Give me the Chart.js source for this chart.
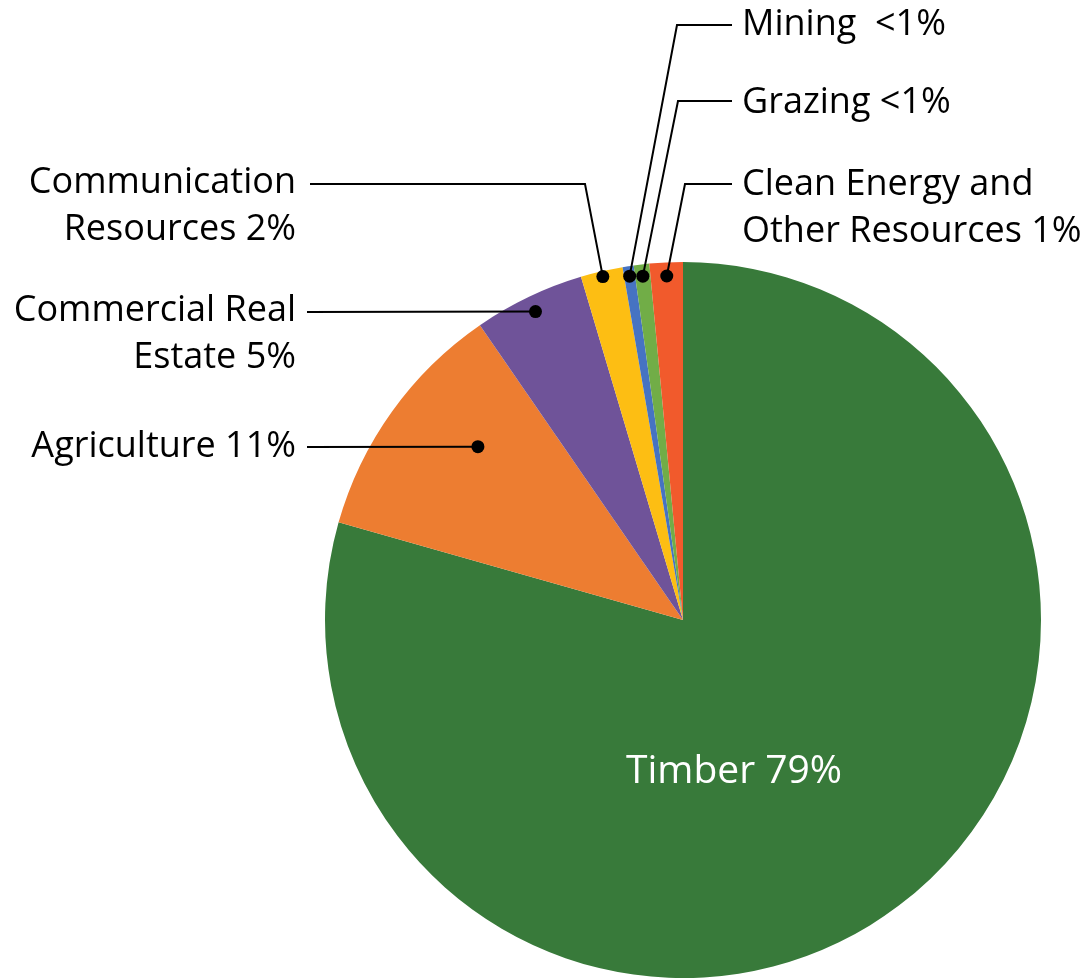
<!DOCTYPE html>
<html lang="en">
<head>
    <meta charset="UTF-8">
    <title>Land use revenue</title>
    <script src="https://cdn.jsdelivr.net/npm/chart.js"></script>
    <style>
        body { margin: 0; background: #fff; }
        #wrap { width: 1083px; height: 980px; }
    </style>
</head>
<body>
    <div id="wrap"><canvas id="pieChart" width="1083" height="980"></canvas></div>
    <script>
        // slice data, clockwise from 12 o'clock
        const categories = ['Timber', 'Agriculture', 'Commercial Real Estate', 'Communication Resources', 'Mining', 'Grazing', 'Clean Energy and Other Resources'];
        const shares = [79.4, 11.0, 5.0, 1.9, 0.5, 0.7, 1.5];
        const labelText = [
            ['Timber 79%'],
            ['Agriculture 11%'],
            ['Commercial Real', 'Estate 5%'],
            ['Communication', 'Resources 2%'],
            ['Mining  <1%'],
            ['Grazing <1%'],
            ['Clean Energy and', 'Other Resources 1%']
        ];
        const colors = ['#387a3a', '#ed7d31', '#6f5399', '#fdbe13', '#4673c2', '#71ad47', '#f15a2c'];

        // callout layout (pixels): text anchor, leader line y, elbow x,
        // dot radius fraction (rf) and position within the slice angle (af)
        const callouts = [
            null,
            { tx: 296, ty: 447, align: 'right', lineY: 447, lineX: 307, rf: 0.75, af: 0.615 },
            { tx: 296, ty: 311, align: 'right', lineY: 312, lineX: 307, rf: 0.955, af: 0.5 },
            { tx: 296, ty: 183, align: 'right', lineY: 184, lineX: 310, elbow: 585, rf: 0.985, af: 0.5 },
            { tx: 742, ty: 25, align: 'left', lineY: 25, lineX: 732, elbow: 677, rf: 0.972, af: 0.5 },
            { tx: 742, ty: 103, align: 'left', lineY: 101, lineX: 732, elbow: 678, rf: 0.967, af: 0.5 },
            { tx: 742, ty: 185, align: 'left', lineY: 184, lineX: 732, elbow: 685, rf: 0.962, af: 0.5 }
        ];

        const FONT = '"Open Sans", "Noto Sans", sans-serif';

        const calloutPlugin = {
            id: 'callouts',
            afterDraw(chart) {
                const ctx = chart.ctx;
                const arcs = chart.getDatasetMeta(0).data;
                ctx.save();
                arcs.forEach((arc, i) => {
                    if (i === 0) {
                        ctx.fillStyle = '#fff';
                        ctx.font = '39px ' + FONT;
                        ctx.textAlign = 'center';
                        ctx.textBaseline = 'middle';
                        ctx.fillText(labelText[0][0], arc.x + 51, arc.y + 152);
                        return;
                    }
                    const c = callouts[i];
                    const ang = arc.startAngle + (arc.endAngle - arc.startAngle) * c.af;
                    const r = arc.outerRadius * c.rf;
                    const dx = arc.x + Math.cos(ang) * r;
                    const dy = arc.y + Math.sin(ang) * r;
                    // leader line
                    ctx.strokeStyle = '#000';
                    ctx.lineWidth = 2;
                    ctx.beginPath();
                    ctx.moveTo(c.lineX, c.lineY);
                    if (c.elbow !== undefined) ctx.lineTo(c.elbow, c.lineY);
                    ctx.lineTo(dx, dy);
                    ctx.stroke();
                    ctx.fillStyle = '#000';
                    ctx.beginPath();
                    ctx.arc(dx, dy, 6.5, 0, Math.PI * 2);
                    ctx.fill();
                    // label
                    ctx.font = '36px ' + FONT;
                    ctx.textAlign = c.align;
                    ctx.textBaseline = 'middle';
                    labelText[i].forEach((line, k) => {
                        ctx.fillText(line, c.tx, c.ty + k * 47);
                    });
                });
                ctx.restore();
            }
        };

        new Chart(document.getElementById('pieChart'), {
            type: 'pie',
            data: {
                labels: categories,
                datasets: [{ data: shares, backgroundColor: colors, borderWidth: 0 }]
            },
            options: {
                responsive: false,
                animation: false,
                layout: { padding: { left: 325, right: 42, top: 262, bottom: 2 } },
                plugins: { legend: { display: false }, tooltip: { enabled: false } }
            },
            plugins: [calloutPlugin]
        });
    </script>
</body>
</html>
